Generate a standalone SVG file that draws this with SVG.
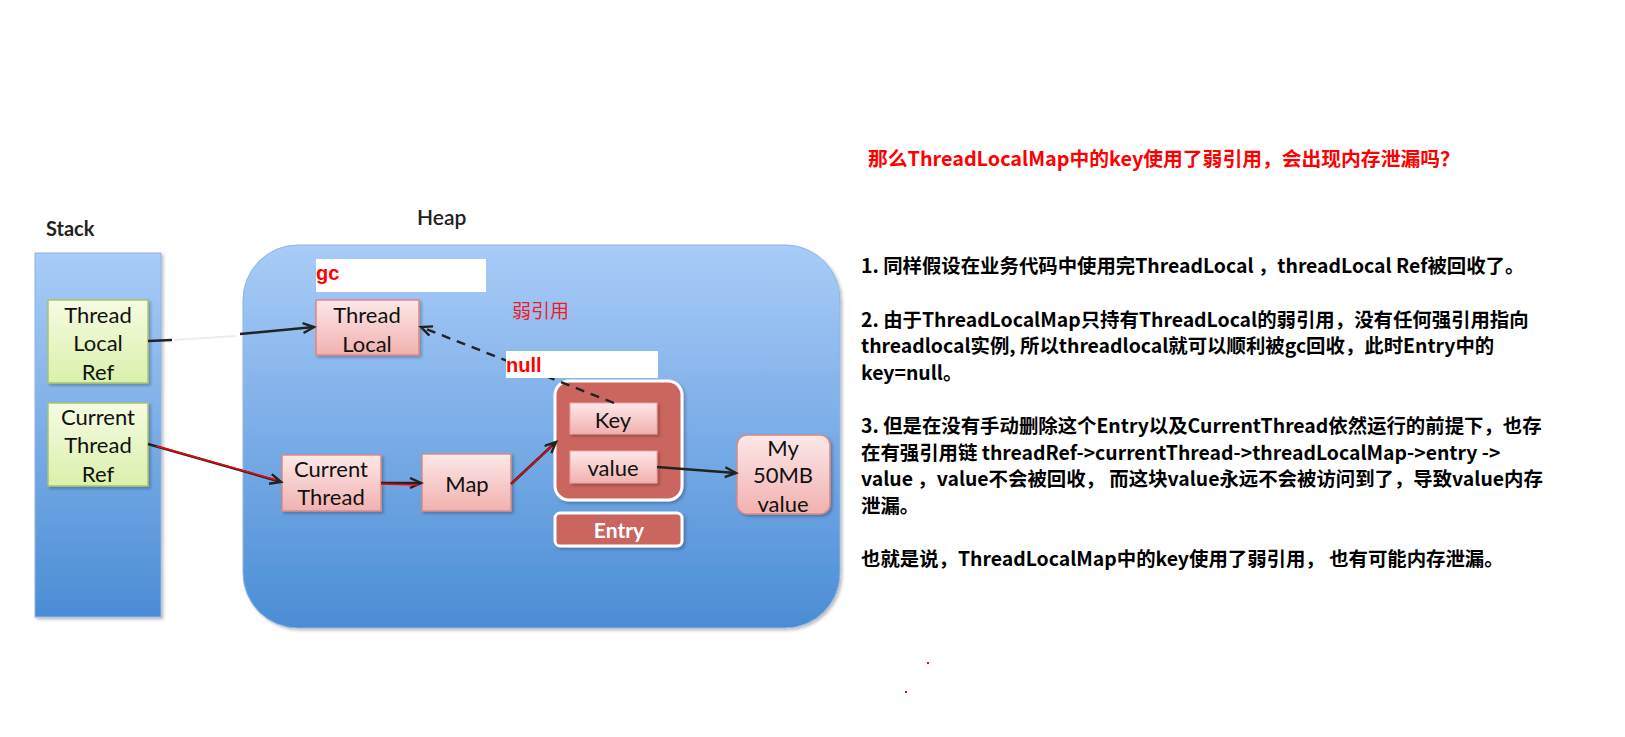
<svg xmlns="http://www.w3.org/2000/svg" width="1625" height="737" viewBox="0 0 1625 737">
  <defs>
    <linearGradient id="blueG" x1="0" y1="0" x2="0" y2="1">
      <stop offset="0" stop-color="#a9ccf8"/>
      <stop offset="1" stop-color="#4a8dd5"/>
    </linearGradient>
    <linearGradient id="greenG" x1="0" y1="0" x2="0" y2="1">
      <stop offset="0" stop-color="#f5fbe2"/>
      <stop offset="1" stop-color="#dbf0ab"/>
    </linearGradient>
    <linearGradient id="pinkG" x1="0" y1="0" x2="0" y2="1">
      <stop offset="0" stop-color="#fce8e8"/>
      <stop offset="1" stop-color="#f1b1af"/>
    </linearGradient>
    <filter id="sh" x="-10%" y="-10%" width="130%" height="130%">
      <feDropShadow dx="2" dy="2" stdDeviation="1.5" flood-color="#000" flood-opacity="0.25"/>
    </filter>
    <marker id="arr" markerUnits="userSpaceOnUse" markerWidth="16" markerHeight="16" refX="12" refY="6" orient="auto">
      <path d="M1,1 L12,6 L1,11" fill="none" stroke="#222" stroke-width="2.4" stroke-linejoin="miter"/>
    </marker>
    <style>
      .lbl { font-family: Lato, "Open Sans", sans-serif; font-size: 22px; fill: #111; text-anchor: middle; }
      .hdr { font-family: Lato, "Open Sans", sans-serif; font-size: 20px; font-weight: bold; fill: #222; }
      .green { fill: url(#greenG); stroke: #a9c46c; stroke-width: 1.5; }
      .pink { fill: url(#pinkG); stroke: #d98a86; stroke-width: 1.5; }
      .pinkin { fill: url(#pinkG); stroke: #e6a5a2; stroke-width: 1; }
      .entry { fill: #cb655f; stroke: #ffffff; stroke-width: 3; }
      .redlbl { font-family: "Liberation Sans", Arial, sans-serif; font-size: 20px; font-weight: bold; fill: #ff0000; }
      .conn { fill: none; stroke: #222; stroke-width: 2.4; }
      .redov { fill: none; stroke: #ff0000; stroke-width: 1.5; }
      .body { font-family: "Noto Sans CJK SC", "Noto Sans", sans-serif; font-size: 19.4px; font-weight: bold; fill: #000; }
      .title { font-family: "Noto Sans CJK SC", "Noto Sans", sans-serif; font-size: 19.8px; font-weight: bold; fill: #ff0000; }
    </style>
  </defs>

  <rect x="0" y="0" width="1625" height="737" fill="#ffffff"/>

  <!-- Stack -->
  <g id="stack">
    <text class="hdr" x="46" y="236">Stack</text>
    <rect x="35" y="253" width="126" height="364" fill="url(#blueG)" stroke="#8fb4e2" stroke-width="1" filter="url(#sh)"/>
  </g>

  <!-- Heap -->
  <g id="heap">
    <text class="hdr" x="417" y="225" style="font-weight:600;font-size:21px">Heap</text>
    <rect x="243" y="245" width="597" height="383" rx="55" ry="55" fill="url(#blueG)" stroke="#8fb4e2" stroke-width="1" filter="url(#sh)"/>
  </g>

  <g id="threadLocalRef">
    <rect class="green" x="48" y="300" width="100" height="83" filter="url(#sh)"/>
    <text class="lbl" x="98" y="323">Thread</text>
    <text class="lbl" x="98" y="351">Local</text>
    <text class="lbl" x="98" y="380">Ref</text>
  </g>

  <g id="currentThreadRef">
    <rect class="green" x="48" y="403" width="100" height="83" filter="url(#sh)"/>
    <text class="lbl" x="98" y="425">Current</text>
    <text class="lbl" x="98" y="453">Thread</text>
    <text class="lbl" x="98" y="482">Ref</text>
  </g>

  <g id="threadLocal">
    <rect class="pink" x="316" y="300" width="103" height="55" filter="url(#sh)"/>
    <text class="lbl" x="367" y="323">Thread</text>
    <text class="lbl" x="367" y="352">Local</text>
  </g>

  <g id="weakRefLabel">
    <text x="512" y="318" font-family="'Noto Sans CJK SC', sans-serif" font-size="19" fill="#ee1c24">弱引用</text>
  </g>

  <g id="currentThread">
    <rect class="pink" x="282" y="455" width="99" height="56" filter="url(#sh)"/>
    <text class="lbl" x="331" y="477">Current</text>
    <text class="lbl" x="331" y="505">Thread</text>
  </g>

  <g id="map">
    <rect class="pink" x="422" y="454" width="89" height="57" filter="url(#sh)"/>
    <text class="lbl" x="467" y="492">Map</text>
  </g>

  <g id="entryBox">
    <rect class="entry" x="555" y="381" width="127" height="119" rx="14" ry="14" filter="url(#sh)"/>
    <rect class="pinkin" x="570" y="403" width="87" height="31" filter="url(#sh)"/>
    <text class="lbl" x="613" y="428">Key</text>
    <rect class="pinkin" x="570" y="451" width="87" height="32" filter="url(#sh)"/>
    <text class="lbl" x="613" y="476">value</text>
  </g>

  <g id="entryLabel">
    <rect class="entry" x="555" y="513" width="127" height="33" rx="5" ry="5" filter="url(#sh)"/>
    <text class="lbl" x="619" y="538" style="fill:#ffffff;font-weight:bold;font-size:21px">Entry</text>
  </g>

  <g id="bigValue">
    <rect class="pink" x="737" y="435" width="93" height="79" rx="10" ry="10" filter="url(#sh)"/>
    <text class="lbl" x="783" y="456">My</text>
    <text class="lbl" x="783" y="483">50MB</text>
    <text class="lbl" x="783" y="512">value</text>
  </g>

  <!-- connectors -->
  <g id="connectors">
    <path class="conn" d="M148,341 L172,340"/>
    <path d="M174,340 L236,336" fill="none" stroke="#ececec" stroke-width="2"/>
    <path class="conn" d="M240,334 L314,327" marker-end="url(#arr)"/>
    <path class="conn" d="M148,444 L281,482" marker-end="url(#arr)"/>
    <path class="redov" d="M156,446 L276,480"/>
    <path class="conn" d="M381,483 L421,483" marker-end="url(#arr)"/>
    <path class="redov" d="M381,484 L418,485"/>
    <path class="conn" d="M511,484 L556,442" stroke-width="1.8" marker-end="url(#arr)"/>
    <path class="redov" d="M511,484 L552,446" stroke-width="2"/>
    <path class="conn" d="M657,467 L736,473" marker-end="url(#arr)"/>
    <path class="conn" d="M614,403 L421,327" stroke-dasharray="9,7" marker-end="url(#arr)"/>
  </g>

  <g id="gcLabel">
    <rect x="316" y="259" width="170" height="33" fill="#ffffff"/>
    <text class="redlbl" x="316" y="280">gc</text>
  </g>

  <g id="nullLabel">
    <rect x="506" y="351" width="152" height="27" fill="#ffffff"/>
    <text class="redlbl" x="506" y="372">null</text>
  </g>

  <!-- right-hand text -->
  <g id="explanation">
    <text class="title" x="868" y="166">那么ThreadLocalMap中的key使用了弱引用，会出现内存泄漏吗？</text>
    <text class="body" x="861" y="273">1. 同样假设在业务代码中使用完ThreadLocal ，threadLocal Ref被回收了。</text>
    <text class="body" x="861" y="327">2. 由于ThreadLocalMap只持有ThreadLocal的弱引用，没有任何强引用指向</text>
    <text class="body" x="861" y="353">threadlocal实例, 所以threadlocal就可以顺利被gc回收，此时Entry中的</text>
    <text class="body" x="861" y="380">key=null。</text>
    <text class="body" x="861" y="433">3. 但是在没有手动删除这个Entry以及CurrentThread依然运行的前提下，也存</text>
    <text class="body" x="861" y="460">在有强引用链 threadRef-&gt;currentThread-&gt;threadLocalMap-&gt;entry -&gt;</text>
    <text class="body" x="861" y="486">value ，value不会被回收， 而这块value永远不会被访问到了，导致value内存</text>
    <text class="body" x="861" y="513">泄漏。</text>
    <text class="body" x="861" y="566">也就是说，ThreadLocalMap中的key使用了弱引用， 也有可能内存泄漏。</text>
  </g>

  <g id="specks">
    <rect x="927" y="662" width="2" height="2" fill="#ff0000"/>
    <rect x="905" y="691" width="2" height="2" fill="#ff0000"/>
  </g>
</svg>
